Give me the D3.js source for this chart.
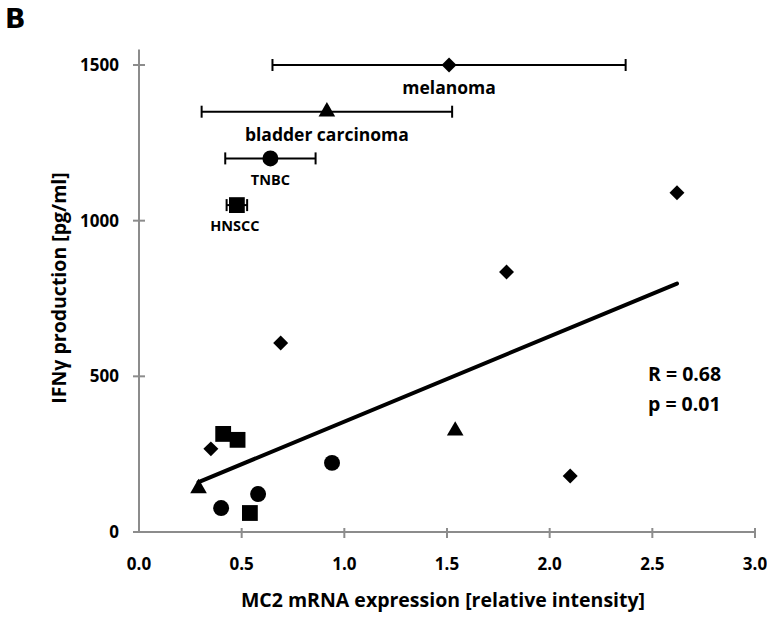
<!DOCTYPE html>
<html>
<head>
<meta charset="utf-8">
<script src="https://cdn.jsdelivr.net/npm/d3@7"></script>
<style>
  body { margin: 0; background: #fff; }
  text { font-family: "Open Sans", sans-serif; font-weight: 700; fill: #000; }
</style>
</head>
<body>
<script>
// individual samples per cancer type: [MC2 expression, IFNy]
const melanoma = [[0.35, 267], [0.69, 607], [1.79, 835], [2.10, 180], [2.62, 1090]];
const bladder = [[0.29, 140], [1.54, 325]];
const tnbc = [[0.40, 77], [0.58, 122], [0.94, 222]];
const hnscc = [[0.41, 315], [0.48, 296], [0.54, 61]];

// group summary: name, display y, error half-width
const groupNames = ['melanoma', 'bladder carcinoma', 'TNBC', 'HNSCC'];
const groupY = [1500, 1350, 1200, 1050];
const groupErr = [0.86, 0.61, 0.22, 0.05];

const xTicks = [0, 0.5, 1, 1.5, 2, 2.5, 3];
const yTicks = [0, 500, 1000, 1500];

const diamond = {
  draw (ctx, size) {
    const r = Math.sqrt(size / 2);
    ctx.moveTo(0, -r);
    ctx.lineTo(r, 0);
    ctx.lineTo(0, r);
    ctx.lineTo(-r, 0);
    ctx.closePath();
  }
};

const groups = [
  { pts: melanoma, shape: diamond, size: 112 },
  { pts: bladder, shape: d3.symbolTriangle, size: 120 },
  { pts: tnbc, shape: d3.symbolCircle, size: 200 },
  { pts: hnscc, shape: d3.symbolSquare, size: 250 }
];

const width = 767;
const height = 621;

const x = d3.scaleLinear().domain([0, 3]).range([139, 755]);
const y = d3.scaleLinear().domain([0, 1500]).range([532, 65]);

const svg = d3.select('body')
  .append('svg')
  .attr('width', width)
  .attr('height', height);

svg.append('text')
  .attr('x', 5)
  .attr('y', 28)
  .style('font-family', 'DejaVu Sans')
  .style('font-size', '27px')
  .text('B');

// axes
const axisColor = '#8c8c8c';

svg.append('line')
  .attr('x1', x(0)).attr('x2', x(0))
  .attr('y1', y(0)).attr('y2', y(1550))
  .attr('stroke', axisColor).attr('stroke-width', 2);

svg.append('line')
  .attr('x1', x(0) - 6).attr('x2', x(3))
  .attr('y1', y(0)).attr('y2', y(0))
  .attr('stroke', axisColor).attr('stroke-width', 2);

svg.selectAll('.ytick')
  .data(yTicks)
  .enter().append('line')
  .attr('x1', x(0) - 6).attr('x2', x(0) + 6)
  .attr('y1', d => y(d)).attr('y2', d => y(d))
  .attr('stroke', axisColor).attr('stroke-width', 2);

svg.selectAll('.xtick')
  .data(xTicks.slice(1))
  .enter().append('line')
  .attr('x1', d => x(d)).attr('x2', d => x(d))
  .attr('y1', y(0) - 4).attr('y2', y(0) + 6)
  .attr('stroke', axisColor).attr('stroke-width', 2);

svg.selectAll('.ylab')
  .data(yTicks)
  .enter().append('text')
  .attr('x', 119)
  .attr('y', d => y(d))
  .attr('dy', '0.35em')
  .attr('text-anchor', 'end')
  .style('font-size', '17px')
  .text(d => d);

svg.selectAll('.xlab')
  .data(xTicks)
  .enter().append('text')
  .attr('x', d => x(d))
  .attr('y', 570)
  .attr('text-anchor', 'middle')
  .style('font-size', '17px')
  .text(d => d3.format('.1f')(d));

svg.append('text')
  .attr('x', 443)
  .attr('y', 607)
  .attr('text-anchor', 'middle')
  .style('font-size', '19.5px')
  .text('MC2 mRNA expression [relative intensity]');

svg.append('text')
  .attr('transform', 'translate(66,288) rotate(-90)')
  .attr('text-anchor', 'middle')
  .style('font-size', '19.5px')
  .text('IFNγ production [pg/ml]');

// regression line over all samples
const all = [].concat(melanoma, bladder, tnbc, hnscc);
const mx = d3.mean(all, d => d[0]);
const my = d3.mean(all, d => d[1]);
const slope = d3.sum(all, d => (d[0] - mx) * (d[1] - my)) / d3.sum(all, d => (d[0] - mx) ** 2);
const icpt = my - slope * mx;
const xr = d3.extent(all, d => d[0]);

svg.append('line')
  .attr('x1', x(xr[0])).attr('y1', y(icpt + slope * xr[0]))
  .attr('x2', x(xr[1])).attr('y2', y(icpt + slope * xr[1]))
  .attr('stroke', '#000').attr('stroke-width', 4)
  .attr('stroke-linecap', 'round');

// sample markers
groups.forEach(g => {
  svg.selectAll(null)
    .data(g.pts)
    .enter().append('path')
    .attr('transform', d => `translate(${x(d[0])},${y(d[1])})`)
    .attr('d', d3.symbol().type(g.shape).size(g.size))
    .attr('fill', '#000');
});

// group means with error bars
groups.forEach((g, i) => {
  const m = d3.mean(g.pts, d => d[0]);
  const gy = y(groupY[i]);
  const lo = x(m - groupErr[i]);
  const hi = x(m + groupErr[i]);
  svg.append('line')
    .attr('x1', lo).attr('x2', hi).attr('y1', gy).attr('y2', gy)
    .attr('stroke', '#000').attr('stroke-width', 2);
  [lo, hi].forEach(cx => {
    svg.append('line')
      .attr('x1', cx).attr('x2', cx).attr('y1', gy - 6).attr('y2', gy + 6)
      .attr('stroke', '#000').attr('stroke-width', 2);
  });
  svg.append('path')
    .attr('transform', `translate(${x(m)},${gy})`)
    .attr('d', d3.symbol().type(g.shape).size(g.size))
    .attr('fill', '#000');
});

const labelPos = [[0, 29, 17.5], [0, 29, 17.5], [0, 27, 14.5], [-2, 26, 14.5]];
groupNames.forEach((name, i) => {
  const m = d3.mean(groups[i].pts, d => d[0]);
  svg.append('text')
    .attr('x', x(m) + labelPos[i][0])
    .attr('y', y(groupY[i]) + labelPos[i][1])
    .attr('text-anchor', 'middle')
    .style('font-size', labelPos[i][2] + 'px')
    .text(name);
});

svg.append('text')
  .attr('x', 648).attr('y', 381)
  .style('font-size', '19.5px')
  .text('R = 0.68');
svg.append('text')
  .attr('x', 648).attr('y', 411)
  .style('font-size', '19.5px')
  .text('p = 0.01');
</script>
</body>
</html>
